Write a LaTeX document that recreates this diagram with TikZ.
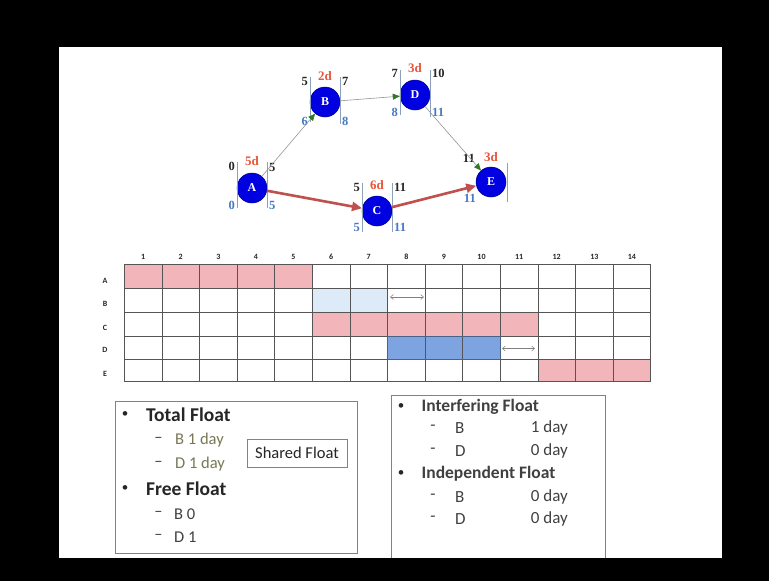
\documentclass[tikz,border=0pt]{standalone}
\usepackage{fontspec}
\setmainfont{Carlito}
\newfontfamily\serfont{Liberation Serif}
\usetikzlibrary{arrows.meta}
\newcommand\fsz[1]{\fontsize{#1}{#1}\selectfont}
\definecolor{nodeblue}{RGB}{0,0,225}
\definecolor{barcol}{RGB}{140,160,185}
\definecolor{numblue}{RGB}{70,120,195}
\definecolor{durred}{RGB}{232,85,58}
\definecolor{linegray}{RGB}{150,150,150}
\definecolor{arrgreen}{RGB}{50,120,40}
\definecolor{critred}{RGB}{192,80,77}
\definecolor{pinkc}{RGB}{242,182,186}
\definecolor{lblue}{RGB}{221,234,248}
\definecolor{mblue}{RGB}{125,163,225}
\definecolor{gridc}{RGB}{85,85,85}
\definecolor{boxc}{RGB}{130,130,130}
\definecolor{darktxt}{RGB}{38,38,38}
\definecolor{midtxt}{RGB}{64,64,64}
\definecolor{olivetxt}{RGB}{120,120,85}
\tikzset{
  act/.style={circle, fill=nodeblue, draw=nodeblue!60!black, line width=0.5pt, minimum size=30pt, inner sep=0pt, text=white, font=\serfont\bfseries\fsz{12}},
  nbar/.style={draw=barcol, line width=0.7pt},
  numtop/.style={inner sep=1pt, text=black!85, font=\serfont\bfseries\fsz{12.5}},
  numbot/.style={inner sep=1pt, text=numblue, font=\serfont\bfseries\fsz{12.5}},
  durlab/.style={inner sep=0pt, text=durred, font=\serfont\bfseries\fsz{13}},
  thinarr/.style={draw=linegray, line width=0.6pt, -{Triangle[length=7pt,width=6pt,color=arrgreen]}},
  critarr/.style={draw=critred, line width=2.6pt, -{Triangle[length=10pt,width=9pt]}},
  gridl/.style={draw=gridc, line width=0.8pt},
  colnum/.style={inner sep=0pt, text=darktxt, font=\bfseries\fsz{8}},
  rowlab/.style={inner sep=0pt, text=darktxt, font=\bfseries\fsz{8}},
  flarr/.style={draw=gray, line width=0.5pt, {Straight Barb[length=3pt,width=5pt]}-{Straight Barb[length=3pt,width=5pt]}},
  fbox/.style={draw=boxc, line width=0.8pt},
  bul/.style={inner sep=0pt, text=darktxt, font=\fsz{13}},
  headb/.style={inner sep=0pt, anchor=west, text=darktxt, font=\bfseries\fsz{19.5}},
  headr/.style={inner sep=0pt, anchor=west, text=midtxt, font=\bfseries\fsz{17.5}},
  subo/.style={inner sep=0pt, anchor=west, text=olivetxt, font=\fsz{16.5}},
  subd/.style={inner sep=0pt, anchor=west, text=midtxt, font=\fsz{16.5}},
  subr/.style={inner sep=0pt, text=midtxt, font=\fsz{17}},
  dashl/.style={inner sep=0pt, text=midtxt, font=\fsz{16.5}}
}
\begin{document}
\begin{tikzpicture}[x=1pt,y=-1pt]
\useasboundingbox (0,0) rectangle (769,581);
\fill[black] (0,0) rectangle (769,581);
\fill[white] (59.3,46.7) rectangle (722.3,557.7);

% ---------- network ----------
% A
\begin{scope}[shift={(252,188)}]
  \node[act] (A) at (0,0) {A};
  \draw[nbar] (-15,-26) -- (-15,20);
  \draw[nbar] (15,-26) -- (15,20);
  \node[durlab] (Adur) at (0,-27) {5d};
  \node[numtop, anchor=east] (Aes) at (-16,-22) {0};
  \node[numtop, anchor=west] (Aef) at (16,-21) {5};
  \node[numbot, anchor=east] (Als) at (-16,17) {0};
  \node[numbot, anchor=west] (Alf) at (16,17) {5};
\end{scope}
% B
\begin{scope}[shift={(325,102)}]
  \node[act] (B) at (0,0) {B};
  \draw[nbar] (-15,-25) -- (-15,20);
  \draw[nbar] (15,-25) -- (15,22);
  \node[durlab] (Bdur) at (0,-26) {2d};
  \node[numtop, anchor=east] (Bes) at (-16,-21) {5};
  \node[numtop, anchor=west] (Bef) at (16,-21) {7};
  \node[numbot, anchor=east] (Bls) at (-16,19) {6};
  \node[numbot, anchor=west] (Blf) at (16,19) {8};
\end{scope}
% D
\begin{scope}[shift={(415,95)}]
  \node[act] (D) at (0,0) {D};
  \draw[nbar] (-15,-25) -- (-15,20);
  \draw[nbar] (15,-25) -- (15,22);
  \node[durlab] (Ddur) at (0,-27) {3d};
  \node[numtop, anchor=east] (Des) at (-16,-22) {7};
  \node[numtop, anchor=west] (Def) at (16,-22) {10};
  \node[numbot, anchor=east] (Dls) at (-16,17) {8};
  \node[numbot, anchor=west] (Dlf) at (16,17) {11};
\end{scope}
% C
\begin{scope}[shift={(377,211)}]
  \node[act] (C) at (0,0) {C};
  \draw[nbar] (-15,-28) -- (-15,21);
  \draw[nbar] (15,-28) -- (15,21);
  \node[durlab] (Cdur) at (0,-26) {6d};
  \node[numtop, anchor=east] (Ces) at (-16,-24) {5};
  \node[numtop, anchor=west] (Cef) at (16,-24) {11};
  \node[numbot, anchor=east] (Cls) at (-16,16) {5};
  \node[numbot, anchor=west] (Clf) at (16,16) {11};
\end{scope}
% E
\begin{scope}[shift={(491,182)}]
  \node[act] (E) at (0,0) {E};
  \draw[nbar] (16,-19) -- (16,20);
  \node[durlab] (Edur) at (0,-25) {3d};
  \node[numtop, anchor=east] (Ees) at (-15,-24) {11};
  \node[numbot, anchor=east] (Els) at (-14,16) {11};
\end{scope}

\draw[thinarr] (A) -- (B);
\draw[thinarr] (B) -- (D);
\draw[thinarr] (D) -- (E);
\draw[critarr] (A) -- (C);
\draw[critarr] (C) -- (E);

% ---------- bar chart ----------
\fill[pinkc] (124.3,264) rectangle (312.3,288.3);
\fill[lblue] (312.3,288.3) rectangle (387.5,312.5);
\fill[pinkc] (312.3,312.5) rectangle (537.9,336.5);
\fill[mblue] (387.5,336.5) rectangle (500.3,359.3);
\fill[pinkc] (537.9,359.3) rectangle (650.7,381.7);
\foreach \i in {0,...,14} \draw[gridl] ({124.3+\i*37.6},264) -- ({124.3+\i*37.6},381.7);
\foreach \yy in {264,288.3,312.5,336.5,359.3,381.7} \draw[gridl] (124.3,\yy) -- (650.7,\yy);
\draw[draw=mblue!60!black, line width=0.8pt] (387.5,336.5) rectangle (500.3,359.3);
\foreach \i in {1,...,14} \node[colnum] (cn\i) at ({124.3+(\i-0.5)*37.6},256.5) {\i};
\foreach \l/\yy in {A/281,B/304,C/328,D/350,E/374} \node[rowlab] (rl\l) at (105,\yy) {\l};
\coordinate (bfa) at (390,297);
\coordinate (bfb) at (424,297);
\draw[flarr] (bfa) -- (bfb);
\coordinate (dfa) at (502,348.5);
\coordinate (dfb) at (535,348.5);
\draw[flarr] (dfa) -- (dfb);

% ---------- left box ----------
\draw[fbox] (115,401.7) rectangle (357.7,553.3);
\node[bul] (lb1) at (125,415) {•};
\node[headb] (tf) at (146,415) {Total Float};
\node[dashl] (ld1) at (158.5,440) {–};
\node[subo] (tfb) at (175,440) {B 1 day};
\node[dashl] (ld2) at (158.5,464) {–};
\node[subo] (tfd) at (175,464) {D 1 day};
\node[bul] (lb2) at (125,489) {•};
\node[headb] (ff) at (146,489) {Free Float};
\node[dashl] (ld3) at (158.5,514) {–};
\node[subd] (ffb) at (174,514) {B 0};
\node[dashl] (ld4) at (158.5,537) {–};
\node[subd] (ffd) at (174,537) {D 1};
\node[fbox, minimum width=100pt, minimum height=28pt, inner sep=0pt, text=darktxt, font=\fsz{16.5}] (sf) at (297,453) {Shared Float};

% ---------- right box ----------
\draw[fbox] (391,557.7) -- (391,395) -- (605.7,395) -- (605.7,557.7);
\node[bul] (rb1) at (401,406.5) {•};
\node[headr] (inf) at (421.5,406.5) {Interfering Float};
\node[subr] (rd1) at (433,428) {-};
\node[subr, anchor=west] (rib) at (455,428) {B};
\node[subr, anchor=east] (ribv) at (568,428) {1 day};
\node[subr] (rd2) at (433,451) {-};
\node[subr, anchor=west] (rid) at (455,451) {D};
\node[subr, anchor=east] (ridv) at (568,451) {0 day};
\node[bul] (rb2) at (401,474) {•};
\node[headr] (idf) at (421.5,474) {Independent Float};
\node[subr] (rd3) at (433,497) {-};
\node[subr, anchor=west] (rjb) at (455,497) {B};
\node[subr, anchor=east] (rjbv) at (568,497) {0 day};
\node[subr] (rd4) at (433,519) {-};
\node[subr, anchor=west] (rjd) at (455,519) {D};
\node[subr, anchor=east] (rjdv) at (568,519) {0 day};
\end{tikzpicture}
\end{document}
